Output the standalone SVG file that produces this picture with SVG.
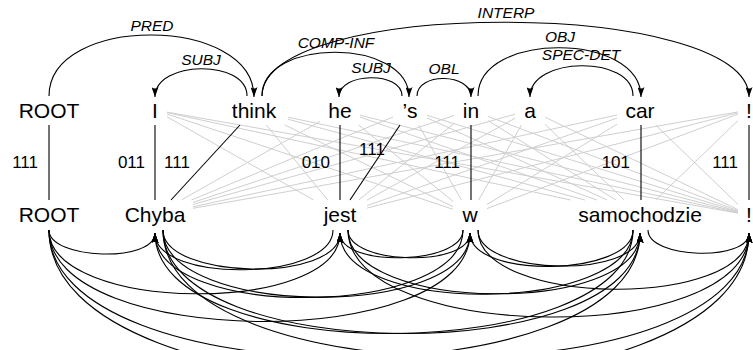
<svg xmlns="http://www.w3.org/2000/svg" width="753" height="350" viewBox="0 0 753 350">
<style>
.w{font-family:"Liberation Sans",Arial,sans-serif;font-size:21px;fill:#000;text-anchor:middle}
.lab{font-family:"Liberation Sans",Arial,sans-serif;font-size:15.5px;font-style:italic;fill:#000;text-anchor:middle}
.num{font-family:"Liberation Sans",Arial,sans-serif;font-size:17px;fill:#000}
.arc{fill:none;stroke:#000;stroke-width:1.1;marker-end:url(#ah)}
.al{stroke:#000;stroke-width:1.1}
.gr{stroke:#cfcfcf;stroke-width:1}
</style>
<defs>
<marker id="ah" markerUnits="userSpaceOnUse" viewBox="0 0 10 7" markerWidth="10" markerHeight="7" refX="10" refY="3.5" orient="auto">
<path d="M0,0 Q3,3.5 0,7 L10,3.5 z" fill="#000"/>
</marker>
</defs>
<rect width="753" height="350" fill="#fff"/>

<g id="gray-links">
<line class="gr" x1="167" y1="116.8" x2="313.6" y2="200"/>
<line class="gr" x1="167" y1="114" x2="453" y2="209.3"/>
<line class="gr" x1="167" y1="112.6" x2="570.7" y2="200"/>
<line class="gr" x1="167" y1="112.1" x2="738" y2="213.1"/>
<line class="gr" x1="266.3" y1="125" x2="327.7" y2="200"/>
<line class="gr" x1="284.9" y1="125" x2="453" y2="206.7"/>
<line class="gr" x1="288" y1="119.2" x2="584.9" y2="200"/>
<line class="gr" x1="288" y1="117.2" x2="738" y2="212.7"/>
<line class="gr" x1="320" y1="121.4" x2="181.4" y2="200"/>
<line class="gr" x1="358.6" y1="125" x2="453" y2="201.3"/>
<line class="gr" x1="360" y1="117" x2="597.1" y2="200"/>
<line class="gr" x1="360" y1="115.1" x2="738" y2="212.2"/>
<line class="gr" x1="393" y1="117" x2="191.4" y2="200"/>
<line class="gr" x1="418.6" y1="125" x2="461.4" y2="200"/>
<line class="gr" x1="427" y1="117.8" x2="607.1" y2="200"/>
<line class="gr" x1="427" y1="115.3" x2="738" y2="211.6"/>
<line class="gr" x1="454" y1="115.6" x2="193" y2="202.4"/>
<line class="gr" x1="454" y1="123.6" x2="358.7" y2="200"/>
<line class="gr" x1="488" y1="120.6" x2="615.9" y2="200"/>
<line class="gr" x1="488" y1="116.4" x2="738" y2="210.8"/>
<line class="gr" x1="515" y1="114.2" x2="193" y2="204.4"/>
<line class="gr" x1="515" y1="118.3" x2="367" y2="200.1"/>
<line class="gr" x1="521.4" y1="125" x2="478.6" y2="200"/>
<line class="gr" x1="545" y1="124.3" x2="624.3" y2="200"/>
<line class="gr" x1="545" y1="117.2" x2="738" y2="209.7"/>
<line class="gr" x1="617" y1="115" x2="193" y2="206.8"/>
<line class="gr" x1="617" y1="118.1" x2="367" y2="205.6"/>
<line class="gr" x1="617" y1="124.2" x2="487" y2="204.5"/>
<line class="gr" x1="655.6" y1="125" x2="738" y2="204.4"/>
<line class="gr" x1="738" y1="111.9" x2="193" y2="208.3"/>
<line class="gr" x1="738" y1="112.8" x2="367" y2="208.1"/>
<line class="gr" x1="738" y1="114.1" x2="487" y2="208.6"/>
<line class="gr" x1="738" y1="120.6" x2="655.6" y2="200"/>
</g>

<g id="alignments">
<line class="al" x1="49" y1="125" x2="49" y2="200"/>
<line class="al" x1="155" y1="125" x2="155" y2="200"/>
<line class="al" x1="240" y1="125" x2="171" y2="200"/>
<line class="al" x1="340" y1="125" x2="340" y2="200"/>
<line class="al" x1="400" y1="125" x2="350" y2="200"/>
<line class="al" x1="471" y1="125" x2="471" y2="200"/>
<line class="al" x1="641" y1="125" x2="641" y2="200"/>
<line class="al" x1="749" y1="125" x2="749" y2="200"/>
<text class="num" x="38" y="168" text-anchor="end">111</text>
<text class="num" x="145" y="168" text-anchor="end">011</text>
<text class="num" x="164" y="168">111</text>
<text class="num" x="330" y="168" text-anchor="end">010</text>
<text class="num" x="359" y="155">111</text>
<text class="num" x="460" y="168" text-anchor="end">111</text>
<text class="num" x="630" y="168" text-anchor="end">101</text>
<text class="num" x="738" y="168" text-anchor="end">111</text>
</g>

<g id="top-arcs">
<path class="arc" d="M49,96 C49,14 254,15 254,97"/>
<path class="arc" d="M247,96 C247,59 155,60 155,97"/>
<path class="arc" d="M262,96 C262,37 409,38 409,97"/>
<path class="arc" d="M402,96 C402,71 339,72 339,97"/>
<path class="arc" d="M417,96 C417,72 471,73 471,97"/>
<path class="arc" d="M262,96 C262,-3 749,-2 749,97"/>
<path class="arc" d="M478,96 C478,31 641,32 641,97"/>
<path class="arc" d="M633,96 C633,55 530,56 530,97"/>
<text class="lab" x="152" y="31">PRED</text>
<text class="lab" x="201" y="65">SUBJ</text>
<text class="lab" x="336" y="48">COMP-INF</text>
<text class="lab" x="371" y="73">SUBJ</text>
<text class="lab" x="444" y="74">OBL</text>
<text class="lab" x="506" y="18">INTERP</text>
<text class="lab" x="560" y="42">OBJ</text>
<text class="lab" x="581" y="60">SPEC-DET</text>
</g>

<g id="bottom-arcs">
<path class="arc" d="M49,230 C49,260 155,263 155,233"/>
<path class="arc" d="M49,230 C49,313 340,316 340,233"/>
<path class="arc" d="M49,230 C49,350 470,353 470,233"/>
<path class="arc" d="M49,230 C49,398 640,401 640,233"/>
<path class="arc" d="M49,230 C49,430 749,433 749,233"/>
<path class="arc" d="M163,230 C163,280 340,283 340,233"/>
<path class="arc" d="M163,230 C163,317.5 470,320.5 470,233"/>
<path class="arc" d="M163,230 C163,366 640,369 640,233"/>
<path class="arc" d="M163,230 C163,397 749,400 749,233"/>
<path class="arc" d="M333,230 C333,281 155,284 155,233"/>
<path class="arc" d="M348,230 C348,265 470,268 470,233"/>
<path class="arc" d="M348,230 C348,313 640,316 640,233"/>
<path class="arc" d="M348,230 C348,344 749,347 749,233"/>
<path class="arc" d="M463,230 C463,318 155,321 155,233"/>
<path class="arc" d="M463,230 C463,265 340,268 340,233"/>
<path class="arc" d="M478,230 C478,276 640,279 640,233"/>
<path class="arc" d="M478,230 C478,307 749,310 749,233"/>
<path class="arc" d="M633,230 C633,366 155,369 155,233"/>
<path class="arc" d="M633,230 C633,313.5 340,316.5 340,233"/>
<path class="arc" d="M633,230 C633,276.5 470,279.5 470,233"/>
<path class="arc" d="M648,230 C648,259 749,262 749,233"/>
</g>

<g id="t-root"><text class="w" x="49" y="118">ROOT</text></g>
<g id="t-i"><text class="w" x="155" y="118">I</text></g>
<g id="t-think"><text class="w" x="254" y="118">think</text></g>
<g id="t-he"><text class="w" x="340" y="118">he</text></g>
<g id="t-s"><text class="w" x="410" y="118">’s</text></g>
<g id="t-in"><text class="w" x="471" y="118">in</text></g>
<g id="t-a"><text class="w" x="530" y="118">a</text></g>
<g id="t-car"><text class="w" x="640" y="118">car</text></g>
<g id="t-excl"><text class="w" x="749" y="118">!</text></g>

<g id="b-root"><text class="w" x="49" y="222">ROOT</text></g>
<g id="b-chyba"><text class="w" x="155" y="222">Chyba</text></g>
<g id="b-jest"><text class="w" x="340" y="222">jest</text></g>
<g id="b-w"><text class="w" x="470" y="222">w</text></g>
<g id="b-samochodzie"><text class="w" x="640" y="222">samochodzie</text></g>
<g id="b-excl"><text class="w" x="749" y="222">!</text></g>
</svg>
